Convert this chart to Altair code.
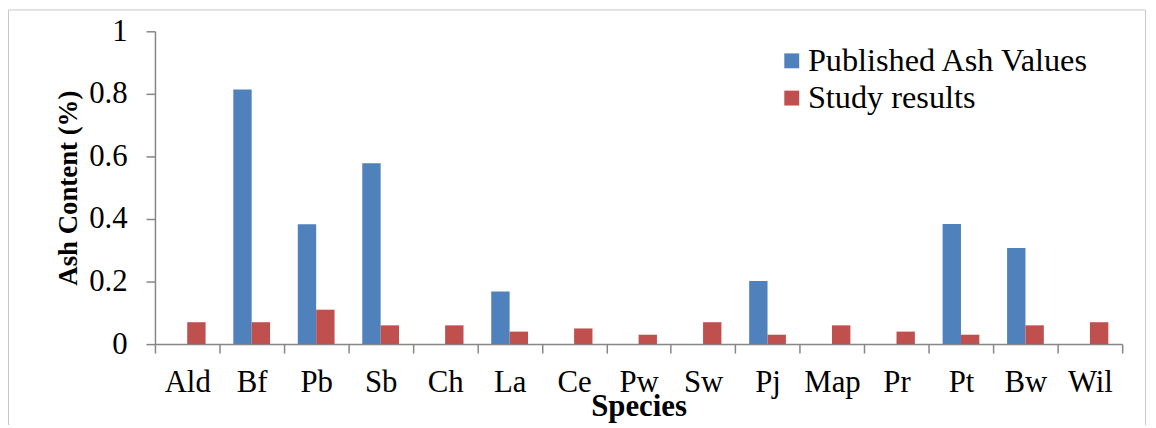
import altair as alt
import pandas as pd

species = ["Ald", "Bf", "Pb", "Sb", "Ch", "La", "Ce", "Pw", "Sw", "Pj", "Map", "Pr", "Pt", "Bw", "Wil"]
published = [None, 0.814, 0.383, 0.578, None, 0.168, None, None, None, 0.202, None, None, 0.384, 0.307, None]
study = [0.07, 0.07, 0.11, 0.06, 0.06, 0.04, 0.05, 0.03, 0.07, 0.03, 0.06, 0.04, 0.03, 0.06, 0.07]
series = ["Published Ash Values", "Study results"]
colors = ["#4F81BD", "#C0504D"]
y_ticks = [0, 0.2, 0.4, 0.6, 0.8, 1]

rows = []
for s, p, r in zip(species, published, study):
    rows.append({"species": s, "series": series[0], "value": p})
    rows.append({"species": s, "series": series[1], "value": r})
df = pd.DataFrame(rows)

FONT = "Liberation Serif"
AXIS_COLOR = "#868686"
W, H = 974, 315

bars = alt.Chart(df).mark_bar().encode(
    x=alt.X(
        "species:N",
        sort=species,
        scale=alt.Scale(paddingInner=0, paddingOuter=0),
        axis=alt.Axis(
            title="Species",
            labelAngle=0,
            tickBand="extent",
            tickSize=9,
            tickColor=AXIS_COLOR,
            tickWidth=1.5,
            domainColor=AXIS_COLOR,
            domainWidth=1.5,
            labelFont=FONT,
            labelFontSize=31,
            labelColor="black",
            labelBaseline="alphabetic",
            labelPadding=39,
            titleFont=FONT,
            titleFontSize=31,
            titleFontWeight="bold",
            titleColor="black",
            titleBaseline="alphabetic",
            titleAlign="center",
            titleX=W / 2,
            titleY=72,
            grid=False,
        ),
    ),
    xOffset=alt.XOffset(
        "series:N",
        sort=series,
        scale=alt.Scale(domain=series, paddingInner=0, paddingOuter=0.755),
    ),
    y=alt.Y(
        "value:Q",
        scale=alt.Scale(domain=[0, 1], nice=False),
        axis=alt.Axis(
            title="Ash Content (%)",
            values=y_ticks,
            format="~g",
            tickSize=9,
            tickColor=AXIS_COLOR,
            tickWidth=1.5,
            domainColor=AXIS_COLOR,
            domainWidth=1.5,
            labelFont=FONT,
            labelFontSize=31,
            labelColor="black",
            labelPadding=19,
            labelBaseline="middle",
            titleFont=FONT,
            titleFontSize=27,
            titleFontWeight="bold",
            titleColor="black",
            titleAngle=270,
            titleAlign="center",
            titleBaseline="middle",
            titleX=-87.5,
            titleY=H / 2,
            grid=False,
        ),
    ),
    color=alt.Color(
        "series:N",
        sort=series,
        scale=alt.Scale(domain=series, range=colors),
        legend=alt.Legend(
            title=None,
            orient="none",
            legendX=625,
            legendY=13.5,
            padding=0,
            symbolType="square",
            symbolSize=225,
            symbolStrokeWidth=0,
            symbolOpacity=1,
            labelFont=FONT,
            labelFontSize=32.5,
            labelColor="black",
            labelOffset=0,
            labelLimit=500,
            rowPadding=4.5,
        ),
    ),
)

frame_df = pd.DataFrame({"k": [0]})
BORDER = "#c8c8c8"
left = alt.Chart(frame_df).mark_rule(color=BORDER, strokeWidth=1).encode(
    x=alt.value(-147.5), y=alt.value(-21.5), y2=alt.value(430)
)
top = alt.Chart(frame_df).mark_rule(color=BORDER, strokeWidth=1).encode(
    x=alt.value(-147.5), x2=alt.value(997.5), y=alt.value(-21.5)
)
right = alt.Chart(frame_df).mark_rule(color=BORDER, strokeWidth=1).encode(
    x=alt.value(997.5), y=alt.value(-21.5), y2=alt.value(430)
)

chart = alt.layer(left, top, right, bars).properties(
    width=W,
    height=H,
    padding={"left": 148, "top": 22, "right": 26, "bottom": 80},
    autosize=alt.AutoSizeParams(type="none"),
).configure_view(stroke=None)

chart.save("out.html", embed_options={"renderer": "svg", "actions": False})
